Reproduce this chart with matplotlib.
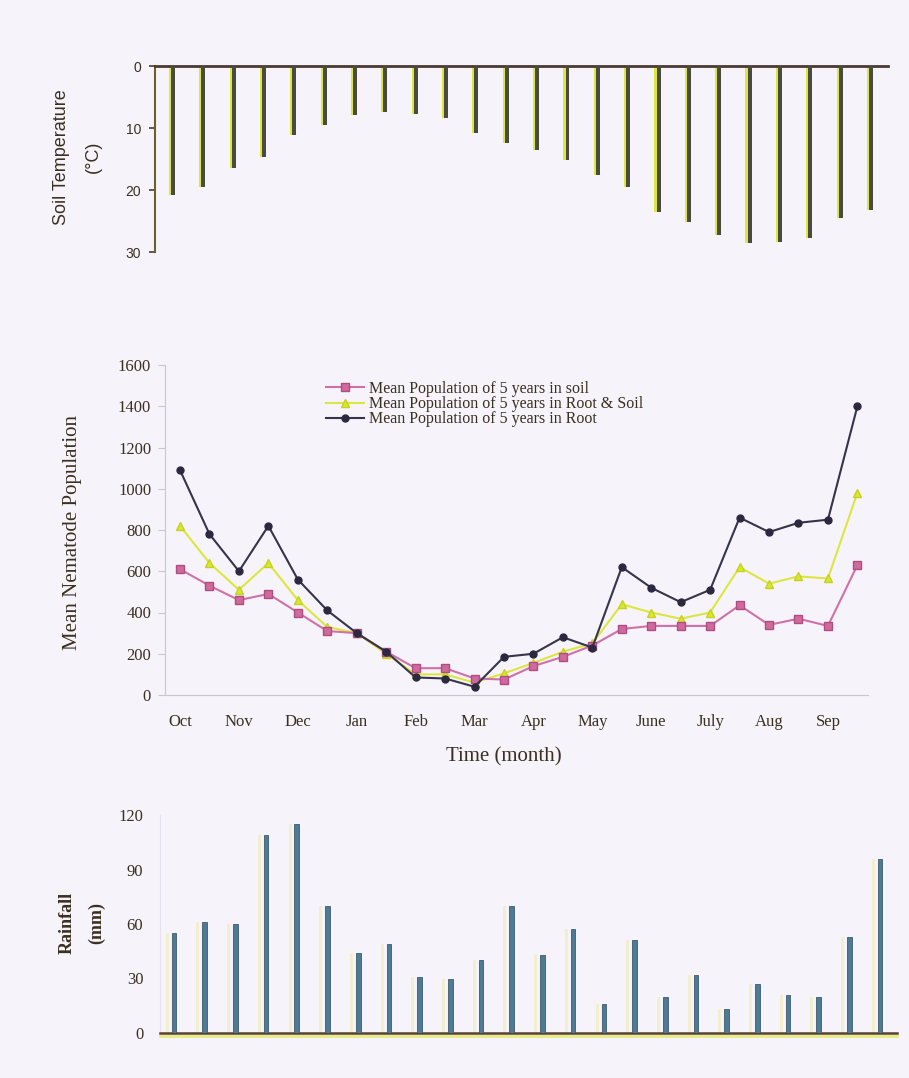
import matplotlib.pyplot as plt
import numpy as np

plt.rcParams['font.family'] = ['Liberation Serif', 'DejaVu Serif']

# fortnightly sampling, Oct -> Sep (24 points)
months = ['Oct', 'Nov', 'Dec', 'Jan', 'Feb', 'Mar', 'Apr', 'May', 'June', 'July', 'Aug', 'Sep']

soil_temp = [20.8, 19.5, 16.5, 14.7, 11.1, 9.5, 7.9, 7.4, 7.7, 8.4, 10.8, 12.4,
             13.5, 15.2, 17.6, 19.5, 23.5, 25.2, 27.3, 28.6, 28.4, 27.8, 24.5, 23.2]

pop_soil = [610, 530, 460, 490, 400, 310, 300, 210, 130, 130, 80, 75,
            140, 185, 240, 320, 335, 335, 335, 435, 340, 370, 335, 630]
pop_root_soil = [820, 640, 510, 640, 460, 330, 300, 200, 100, 100, 60, 105,
                 155, 210, 250, 440, 400, 370, 400, 620, 540, 575, 565, 980]
pop_root = [1090, 780, 600, 820, 560, 410, 300, 210, 85, 80, 40, 185,
            200, 280, 230, 620, 520, 450, 510, 860, 790, 835, 850, 1400]

rainfall = [55, 61, 60, 109, 115, 70, 44, 49, 31, 30, 40, 70,
            43, 57, 16, 51, 20, 32, 13, 27, 21, 20, 53, 96]

labels = ['Mean Population of 5 years in soil',
          'Mean Population of 5 years in Root & Soil',
          'Mean Population of 5 years in Root']

bg = '#f6f4fa'
txt = '#3a3020'
W, H = 909, 1078

fig = plt.figure(figsize=(W / 100, H / 100), dpi=100, facecolor=bg)


def box(l, t, r, b):
    return [l / W, 1 - b / H, (r - l) / W, (b - t) / H]


x = np.arange(len(soil_temp))

# ---------- soil temperature (hanging bars) ----------
ax1 = fig.add_axes(box(155, 66, 888, 252), facecolor='none')
ax1.bar(x - 0.09, soil_temp, width=0.09, color='#dce83a', zorder=2)
ax1.bar(x, soil_temp, width=0.13, color='#4a4a40', zorder=3)
ax1.set_xlim(-0.59, 23.56)
ax1.set_ylim(30, 0)
ax1.set_yticks([0, 10, 20, 30])
ax1.set_xticks([])
for s in ['bottom', 'right']:
    ax1.spines[s].set_visible(False)
ax1.spines['top'].set_color('#4a3a30')
ax1.spines['top'].set_linewidth(2)
ax1.spines['left'].set_color('#6a6030')
ax1.spines['left'].set_linewidth(1.5)
ax1.tick_params(axis='y', length=4, width=1.2, color='#4a3a30', pad=6,
                labelsize=10, labelcolor=txt)
for lab in ax1.get_yticklabels():
    lab.set_family(['Liberation Sans', 'DejaVu Sans'])
fig.text(62 / W, 1 - 157 / H, 'Soil Temperature', rotation=90, ha='center', va='center',
         fontsize=13, color=txt, family=['Liberation Sans', 'DejaVu Sans'])
fig.text(93 / W, 1 - 157 / H, '(°C)', rotation=90, ha='center', va='center',
         fontsize=13, color=txt, family=['Liberation Sans', 'DejaVu Sans'])

# ---------- nematode population ----------
ax2 = fig.add_axes(box(165, 365, 868, 695), facecolor='none')
ax2.plot(x, pop_soil, color='#d070a8', lw=1.5, marker='s', ms=6,
         mfc='#d06a9c', mec='#b04c84', label=labels[0], zorder=3)
ax2.plot(x, pop_root_soil, color='#dce640', lw=1.5, marker='^', ms=6,
         mfc='#d8e830', mec='#c8d020', label=labels[1], zorder=2)
ax2.plot(x, pop_root, color='#35344a', lw=1.5, marker='o', ms=5,
         mfc='#2b2840', mec='#2b2840', label=labels[2], zorder=4)
ax2.set_xlim(-0.51, 23.36)
ax2.set_ylim(0, 1600)
ax2.set_yticks(np.arange(0, 1601, 200))
ax2.set_xticks(np.arange(0, 24, 2))
ax2.set_xticklabels(months)
for s in ['top', 'right']:
    ax2.spines[s].set_visible(False)
ax2.spines['left'].set_color('#c8c6d0')
ax2.spines['bottom'].set_color('#c8c6d0')
ax2.tick_params(axis='y', length=5, color='#c8c6d0', pad=5, labelsize=12, labelcolor=txt)
ax2.tick_params(axis='x', length=0, pad=14, labelsize=12, labelcolor=txt)
ax2.legend(loc='upper left', bbox_to_anchor=(318 / W, 1 - 373 / H),
           bbox_transform=fig.transFigure, frameon=False, fontsize=11.5,
           labelspacing=-0.05, handlelength=2.4, handletextpad=0.3,
           borderpad=0, labelcolor=txt)
fig.text(72 / W, 1 - 533 / H, 'Mean Nematode Population', rotation=90,
         ha='center', va='center', fontsize=15, color=txt)
fig.text(504 / W, 1 - 757 / H, 'Time (month)', ha='center', va='center',
         fontsize=15, color=txt)

# ---------- rainfall ----------
ax3 = fig.add_axes(box(160, 815, 897, 1033), facecolor='none')
ax3.bar(x - 0.22, rainfall, width=0.1, color='#f2eec4', alpha=0.8, zorder=1)
ax3.bar(x, rainfall, width=0.15, color='#4d7b96', edgecolor='#3e5a6a',
        linewidth=0.6, zorder=3)
ax3.set_xlim(-0.456, 23.55)
ax3.set_ylim(0, 120)
ax3.set_yticks([0, 30, 60, 90, 120])
ax3.set_xticks([])
for s in ['top', 'right']:
    ax3.spines[s].set_visible(False)
ax3.spines['left'].set_color('#e4e2ec')
ax3.spines['bottom'].set_color('#5a4030')
ax3.spines['bottom'].set_linewidth(1.8)
ax3.plot([0, 1], [-0.012, -0.012], transform=ax3.transAxes, color='#e6ec80',
         lw=2, clip_on=False, zorder=1)
ax3.tick_params(axis='y', length=0, pad=12, labelsize=12, labelcolor=txt)
fig.text(67 / W, 1 - 923 / H, 'Rainfall', rotation=90, ha='center', va='center',
         fontsize=13, color=txt, fontweight='bold')
fig.text(97 / W, 1 - 923 / H, '(mm)', rotation=90, ha='center', va='center',
         fontsize=13, color=txt, fontweight='bold')

fig.savefig('out.png', dpi=100, facecolor=bg)
